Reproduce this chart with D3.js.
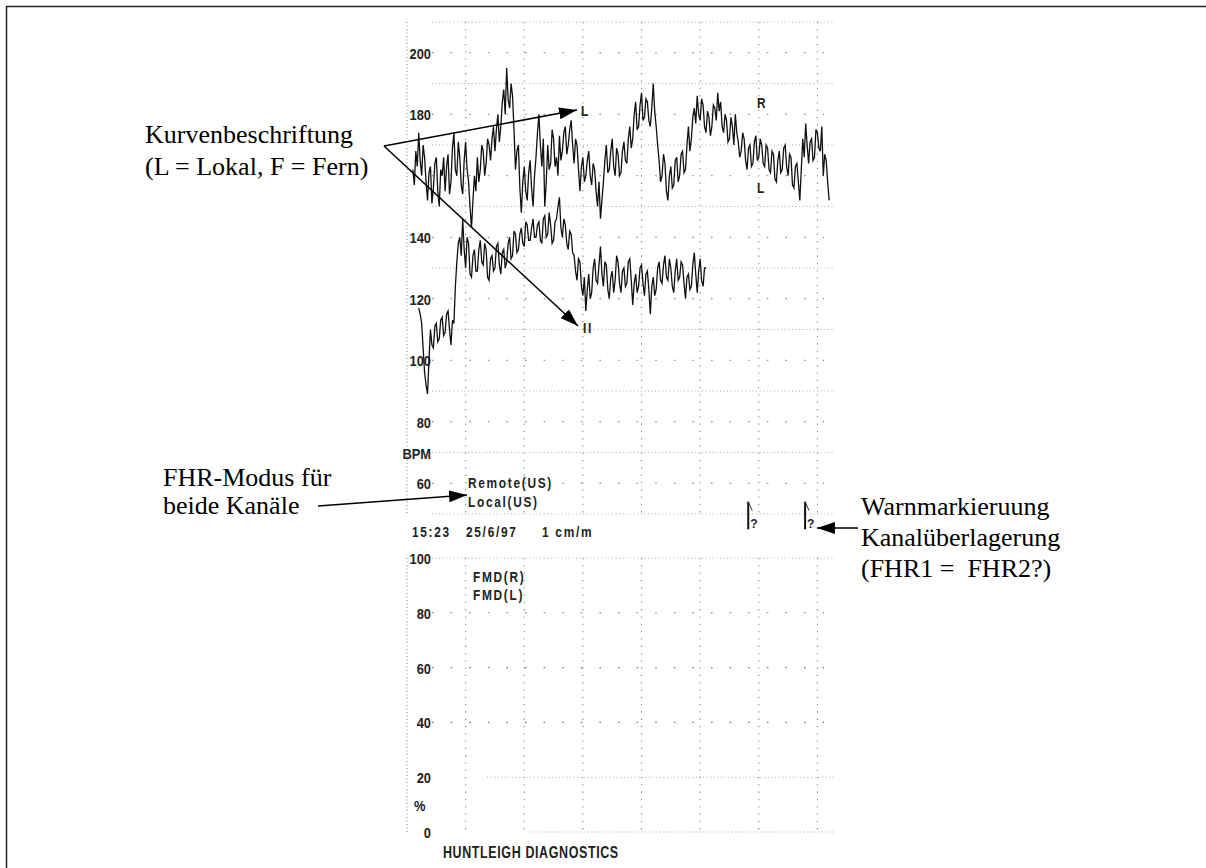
<!DOCTYPE html>
<html>
<head>
<meta charset="utf-8">
<script src="https://cdn.jsdelivr.net/npm/d3@7"></script>
<style>
    body { margin: 0; background: #fff; }
    svg { display: block; }
    .prn { font-family: "Liberation Sans", Arial, sans-serif; font-weight: bold; fill: #222; }
    .note { font-family: "Liberation Serif", "Times New Roman", serif; font-size: 26px; fill: #000; white-space: pre; }
</style>
</head>
<body>
<svg id="chart" width="1206" height="868"></svg>
<script>
// CTG printout, 1 cm/min, one sample every 0.025 min
const sampleStep = 0.025

const fhr1Start = 0.1
const fhr1 = [
    162, 157, 168, 163, 174, 165, 160, 170, 166, 158, 152, 161, 163, 151, 156, 164, 166, 155, 150, 162,
    160, 166, 155, 163, 167, 154, 158, 169, 174, 162, 160, 171, 166, 157, 154, 165, 171, 162, 158, 150,
    143, 152, 160, 155, 166, 158, 162, 170, 168, 160, 164, 172, 170, 165, 172, 176, 168, 175, 180, 171,
    176, 184, 188, 180, 195, 185, 182, 190, 186, 175, 162, 168, 170, 156, 148, 158, 163, 155, 152, 161,
    165, 156, 150, 160, 166, 174, 180, 170, 163, 172, 150, 158, 170, 162, 164, 175, 172, 163, 166, 160,
    173, 165, 168, 174, 176, 167, 170, 175, 178, 170, 164, 172, 170, 162, 155, 163, 166, 158, 160, 165,
    168, 160, 157, 164, 162, 155, 150, 158, 146, 152, 158, 165, 170, 161, 162, 168, 172, 163, 160, 169,
    167, 160, 161, 168, 171, 165, 164, 172, 176, 169, 172, 180, 184, 175, 176, 183, 187, 178, 179, 185,
    184, 178, 176, 182, 190, 181, 176, 170, 165, 158, 160, 167, 164, 155, 152, 160, 163, 156, 157, 165,
    166, 158, 160, 167, 168, 161, 162, 170, 176, 168, 172, 179, 182, 177, 186, 180, 178, 185, 183, 176,
    174, 181, 179, 173, 176, 183, 182, 178, 187, 181, 184, 176, 174, 180, 178, 171, 172, 179, 176, 170,
    180, 174, 171, 166, 168, 174, 172, 165, 162, 169, 170, 163, 164, 171, 173, 165, 166, 172, 170, 164,
    163, 170, 169, 162, 161, 168, 167, 159, 158, 165, 168, 161, 162, 169, 170, 163, 160, 167, 166, 157,
    156, 163, 164, 158, 152, 162, 172, 166, 177, 170, 164, 171, 172, 165, 166, 175, 174, 169, 168, 176,
    160, 167, 165, 158, 152
]

const fhr2Start = 0.2
const fhr2 = [
    117, 115, 112, 104, 96, 92, 89, 100, 110, 105, 104, 111, 112, 106, 107, 113, 114, 108, 109, 115,
    116, 110, 105, 113, 112, 124, 132, 138, 140, 134, 146, 136, 130, 140, 138, 128, 127, 134, 136, 129,
    129, 136, 139, 132, 131, 138, 136, 127, 126, 133, 134, 129, 130, 137, 138, 131, 128, 135, 136, 130,
    132, 138, 140, 133, 134, 142, 141, 135, 136, 141, 143, 138, 137, 145, 144, 139, 139, 143, 146, 140,
    140, 144, 145, 139, 138, 146, 147, 140, 141, 148, 144, 138, 139, 145, 146, 150, 153, 143, 140, 146,
    144, 138, 136, 142, 141, 135, 134, 129, 126, 133, 132, 124, 121, 127, 116, 123, 128, 120, 122, 130,
    133, 126, 125, 131, 137, 128, 124, 132, 131, 123, 120, 127, 129, 122, 126, 134, 132, 125, 122, 129,
    130, 124, 125, 132, 133, 126, 118, 125, 128, 122, 124, 130, 131, 125, 121, 128, 129, 123, 115, 124,
    127, 121, 123, 130, 132, 126, 125, 131, 134, 127, 126, 133, 130, 124, 122, 129, 133, 126, 127, 132,
    131, 125, 120, 127, 128, 123, 124, 131, 135, 128, 122, 129, 133, 126, 124, 130, 130
]

const fhrTicks = [200, 180, 140, 120, 100, 80, 70, 60]
const uaTicks = [100, 80, 60, 40, 20, 10, 0]
const fhrGrid = [50, 60, 70, 80, 90, 100, 110, 120, 130, 140, 150, 160, 170, 180, 190, 200, 210]
const uaGrid = [0, 20, 40, 60, 80, 100]
const minuteLines = [0, 1, 2, 3, 4, 5, 6, 7]
const warnTimes = [5.82, 6.79]

const svg = d3.select("#chart")

const x = d3.scaleLinear().domain([0, 7.3]).range([407, 835])
const yF = d3.scaleLinear().domain([50, 210]).range([514, 22])
const yU = d3.scaleLinear().domain([0, 100]).range([832, 558])

// page frame
svg.append("path")
    .attr("d", "M6.5,868V6.5H1206")
    .attr("fill", "none")
    .attr("stroke", "#222")
    .attr("stroke-width", 1.5)

const grid = svg.append("g").attr("stroke-width", 1.1)
const dense = (d) => d % 20 === 10

grid.selectAll(".hf")
    .data(fhrGrid)
    .join("line")
    .attr("x1", 432)
    .attr("x2", 835)
    .attr("y1", (d) => yF(d))
    .attr("y2", (d) => yF(d))
    .attr("stroke", (d) => (dense(d) ? "#aaa" : "#777"))
    .attr("stroke-dasharray", (d) => (dense(d) ? "1,2.6" : "1.6,17"))

const denseUa = (d) => d === 0 || d === 20 || d === 100
grid.selectAll(".hu")
    .data(uaGrid)
    .join("line")
    .attr("x1", (d) => (d === 0 ? 530 : d === 20 ? 487 : 432))
    .attr("x2", 835)
    .attr("y1", (d) => yU(d))
    .attr("y2", (d) => yU(d))
    .attr("stroke", (d) => (denseUa(d) ? "#aaa" : "#777"))
    .attr("stroke-dasharray", (d) => (denseUa(d) ? "1,2.6" : "1.6,17"))

for (const [top, bottom] of [[yF(210), yF(50)], [yU(100), yU(0)]]) {
    grid.append("g")
        .selectAll("line")
        .data(minuteLines)
        .join("line")
        .attr("x1", (d) => x(d))
        .attr("x2", (d) => x(d))
        .attr("y1", top)
        .attr("y2", bottom)
        .attr("stroke", "#888")
        .attr("stroke-dasharray", (d) => (d === 0 ? "1,2.5" : "1.3,6"))
}

// axes, printed inside the paper
const fhrAxis = svg.append("g")
    .attr("transform", "translate(431,0)")
    .call(d3.axisLeft(yF).tickValues(fhrTicks).tickSize(0).tickPadding(0)
        .tickFormat((d) => (d === 70 ? "BPM" : d)))
const uaAxis = svg.append("g")
    .attr("transform", "translate(431,0)")
    .call(d3.axisLeft(yU).tickValues(uaTicks).tickSize(0).tickPadding(0)
        .tickFormat((d) => (d === 10 ? "%" : d)))
for (const a of [fhrAxis, uaAxis]) {
    a.select(".domain").remove()
    a.selectAll("text")
        .attr("class", "prn")
        .attr("font-size", 14)
        .attr("fill", "#222")
        .attr("dy", "0.36em")
        .attr("transform", "scale(0.92,1.1)")
}
uaAxis.selectAll("text").filter((d) => d === 10).attr("dx", -6)

// heart-rate traces
const trace = (start) =>
    d3.line()
        .x((d, i) => x(start + i * sampleStep))
        .y((d) => yF(d))

for (const [values, start] of [[fhr1, fhr1Start], [fhr2, fhr2Start]]) {
    svg.append("path")
        .datum(values)
        .attr("fill", "none")
        .attr("stroke", "#111")
        .attr("stroke-width", 1.3)
        .attr("stroke-linejoin", "miter")
        .attr("d", trace(start))
}

// warning markers
const warn = svg.append("g")
    .selectAll("g")
    .data(warnTimes)
    .join("g")
    .attr("transform", (d) => `translate(${x(d)},0)`)
warn.append("line")
    .attr("y1", yF(54))
    .attr("y2", yF(45))
    .attr("stroke", "#111")
    .attr("stroke-width", 2)
warn.append("path")
    .attr("d", `M0,${yF(54)}l4,9`)
    .attr("stroke", "#333")
    .attr("stroke-width", 1)
warn.append("text")
    .attr("class", "prn")
    .attr("font-size", 12)
    .attr("x", 2)
    .attr("y", yF(45) - 1)
    .text("?")

// printed texts
const printed = [
    [581, 116, "L"],
    [583, 333, "II"],
    [757, 108, "R"],
    [757, 193, "L"],
    [468, 488, "Remote(US)"],
    [468, 507, "Local(US)"],
    [412, 537, "15:23"],
    [466, 537, "25/6/97"],
    [542, 537, "1 cm/m"],
    [473, 582, "FMD(R)"],
    [473, 600, "FMD(L)"],
]
svg.append("g")
    .selectAll("text")
    .data(printed)
    .join("text")
    .attr("class", "prn")
    .attr("font-size", 14)
    .attr("letter-spacing", 2)
    .attr("transform", (d) => `translate(${d[0]},${d[1]}) scale(0.85,1.05)`)
    .text((d) => d[2])

svg.append("text")
    .attr("class", "prn")
    .attr("font-size", 16)
    .attr("letter-spacing", 0.8)
    .attr("transform", "translate(443,858) scale(0.78,1)")
    .text("HUNTLEIGH DIAGNOSTICS")

// annotations
svg.append("defs")
    .append("marker")
    .attr("id", "head")
    .attr("viewBox", "0 0 18 12")
    .attr("refX", 18)
    .attr("refY", 6)
    .attr("markerWidth", 18)
    .attr("markerHeight", 12)
    .attr("markerUnits", "userSpaceOnUse")
    .attr("orient", "auto")
    .append("path")
    .attr("d", "M0,0L18,6L0,12Z")
    .attr("fill", "#000")

const arrows = [
    [384, 146, 577, 110],
    [384, 146, 578, 326],
    [318, 506, 467, 495],
    [858, 528, 817, 528],
]
svg.append("g")
    .selectAll("line")
    .data(arrows)
    .join("line")
    .attr("x1", (d) => d[0])
    .attr("y1", (d) => d[1])
    .attr("x2", (d) => d[2])
    .attr("y2", (d) => d[3])
    .attr("stroke", "#000")
    .attr("stroke-width", 1.5)
    .attr("marker-end", "url(#head)")

const notes = [
    [145, 143, "Kurvenbeschriftung", 26.5],
    [145, 175, "(L = Lokal, F = Fern)", 26.5],
    [163, 486, "FHR-Modus für", 24],
    [163, 514, "beide Kanäle", 24],
    [861, 515, "Warnmarkieruung", 25.5],
    [861, 546, "Kanalüberlagerung", 25.5],
    [861, 577, "(FHR1 =  FHR2?)", 25.5],
]
svg.append("g")
    .selectAll("text")
    .data(notes)
    .join("text")
    .attr("class", "note")
    .attr("font-size", (d) => d[3])
    .attr("x", (d) => d[0])
    .attr("y", (d) => d[1])
    .text((d) => d[2])
</script>
</body>
</html>
